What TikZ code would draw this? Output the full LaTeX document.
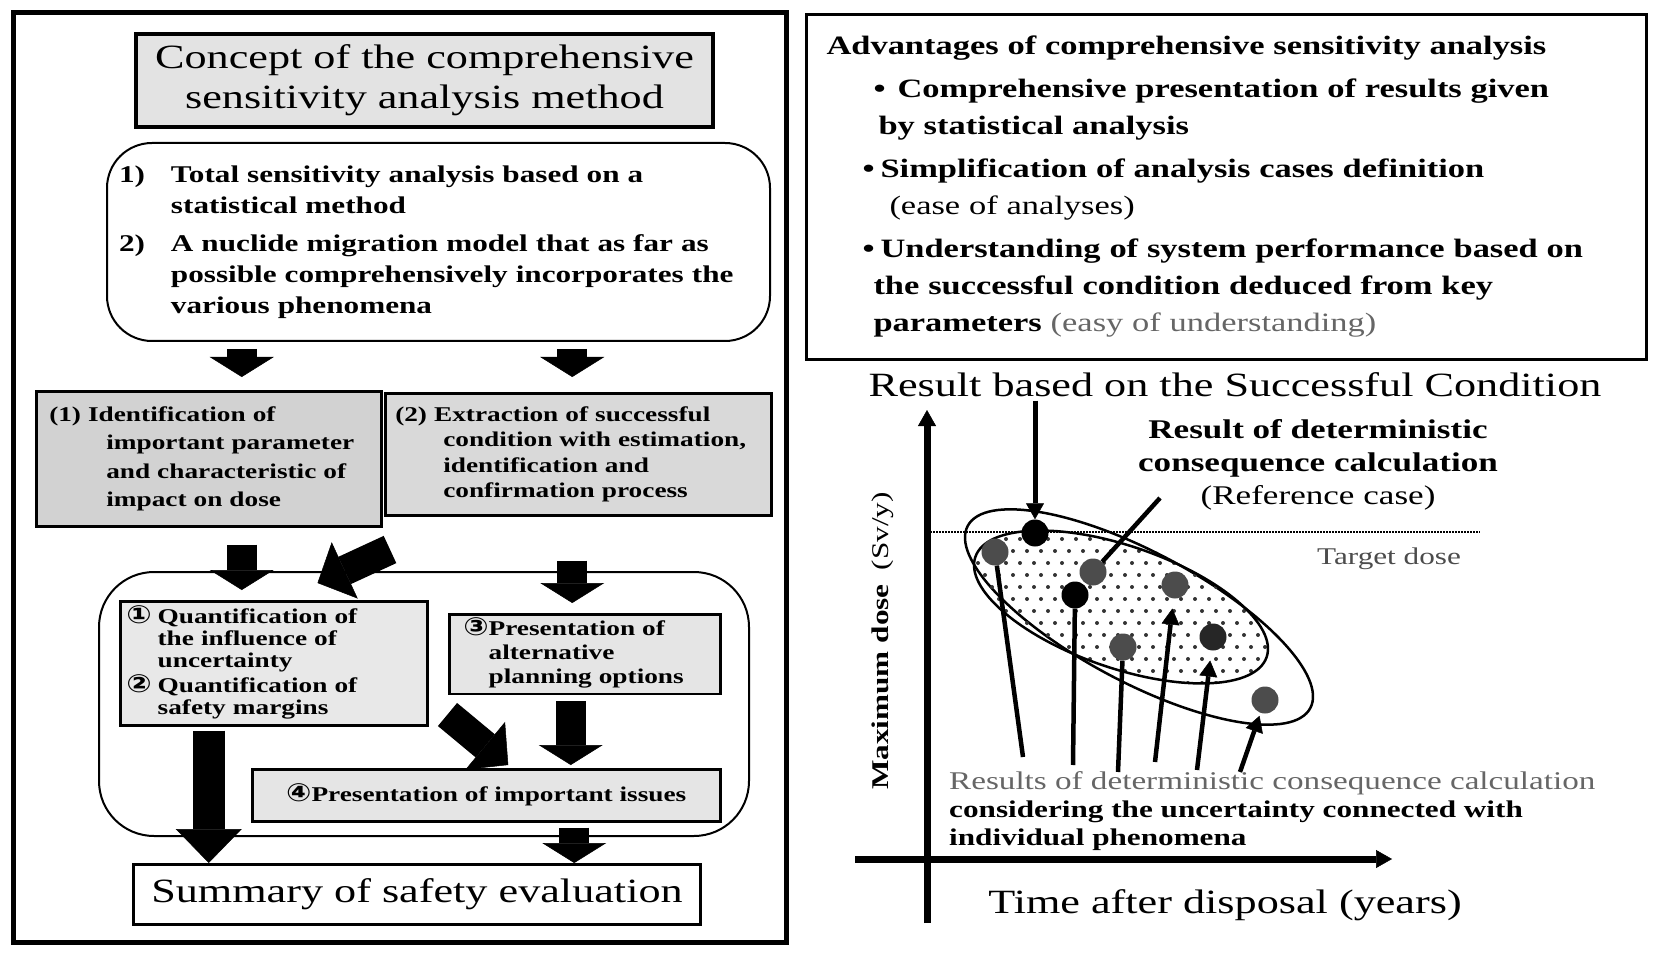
\documentclass[tikz,border=0pt]{standalone}
\usepackage{fontspec}
\setmainfont{Liberation Serif}[FakeStretch=1.3]
\newfontfamily\circfont{DejaVu Sans}[FakeStretch=1.2]
\newcommand{\cnum}[1]{{\circfont\fontsize{25}{22}\selectfont #1}}
\usetikzlibrary{arrows.meta}
\hyphenpenalty=10000

\begin{document}
\begin{tikzpicture}[x=1pt, y=-1pt,
    boxed/.style={draw, line width=2.5pt, anchor=north west},
    toned/.style={boxed, fill=gray!25, align=left, font=\bfseries\fontsize{21}{24}\selectfont},
    roundframe/.style={draw, line width=2pt, anchor=north west, rounded corners=45pt},
    blockarrow/.style={line width=30pt, -{Triangle[width=64pt, length=20pt, line width=0.5pt]}},
    slantarrow/.style={line width=30pt, -{Triangle[width=62pt, length=30pt, line width=0.5pt]}},
    pointer/.style={line width=5pt, -{Triangle[width=18pt, length=16pt, line width=0.5pt]}},
    stalk/.style={line width=4.5pt},
    blackdot/.style={circle, fill=black, inner sep=0pt, minimum size=27pt},
    greydot/.style={blackdot, fill=black!70}]
    \useasboundingbox (0,0) rectangle (1663,968);

    \draw[line width=5pt] (13,13) rectangle (786,942);
    \node[boxed, line width=4pt, fill=gray!22, minimum width=577pt, minimum height=93pt, align=center,
          font=\fontsize{34}{40}\selectfont] (concept) at (134,32)
          {Concept of the comprehensive\\sensitivity analysis method};
    \node[roundframe, inner xsep=12pt, text width=639pt, minimum height=198pt, align=left,
          font=\bfseries\fontsize{24}{31}\selectfont] (basis) at (106,142) {%
        \begin{tabular}{@{}l@{\hspace{26pt}}l@{}}
        1) & Total sensitivity analysis based on a\\
           & statistical method\\[7pt]
        2) & A nuclide migration model that as far as\\
           & possible comprehensively incorporates the\\
           & various phenomena
        \end{tabular}};
    \node[toned, fill=gray!35, inner xsep=13pt, text width=319pt, minimum height=135pt,
          font=\bfseries\fontsize{21}{28.5}\selectfont] (ident) at (35,390)
          {(1) Identification of\\\hspace*{57pt}important parameter\\\hspace*{57pt}and characteristic of\\\hspace*{57pt}impact on dose};
    \node[toned, fill=gray!30, inner xsep=10pt, text width=366pt, minimum height=122pt,
          font=\bfseries\fontsize{21}{25.5}\selectfont] (extract) at (384,392)
          {(2) Extraction of successful\\\hspace*{48pt}condition with estimation,\\\hspace*{48pt}identification and\\\hspace*{48pt}confirmation process};
    \node[roundframe, rounded corners=55pt, minimum width=650pt, minimum height=264pt] (impl) at (98,571) {};
    \node[toned, fill=gray!18, inner xsep=6pt, text width=295pt, minimum height=124pt,
          font=\bfseries\fontsize{21}{22}\selectfont] (quant) at (119,600) {%
        \begin{tabular}{@{}l@{\hspace{6pt}}l@{}}
        \cnum{①} & Quantification of\\
                 & the influence of\\
                 & uncertainty\\
        \cnum{②} & Quantification of\\
                 & safety margins
        \end{tabular}};
    \node[toned, fill=gray!20, inner xsep=14pt, text width=243pt, minimum height=79pt] (altern) at (448,613) {%
        \begin{tabular}{@{}l@{}l@{}}
        \cnum{③} & Presentation of\\
                 & alternative\\
                 & planning options
        \end{tabular}};
    \node[toned, fill=gray!20, minimum width=468pt, minimum height=52pt, align=center] (issues) at (251,768)
          {\cnum{④}Presentation of important issues};
    \node[boxed, line width=3pt, minimum width=567pt, minimum height=60pt,
          font=\fontsize{34}{40}\selectfont] (summary) at (132,863) {Summary of safety evaluation};

    \draw[blockarrow, shorten <=7pt, shorten >=13pt] ([xshift=33pt]ident.north |- basis.south) -- ([xshift=33pt]ident.north);
    \draw[blockarrow, shorten <=7pt, shorten >=15pt] ([xshift=-6pt]extract.north |- basis.south) -- ([xshift=-6pt]extract.north);
    \draw[blockarrow, shorten <=17pt, shorten >=10pt] ([xshift=33pt]ident.south) -- ([xshift=33pt]ident.south |- quant.north);
    \draw[slantarrow] ([shift={(6pt,-33pt)}]extract.south west) -- ([shift={(-111pt,17pt)}]quant.north east);
    \draw[blockarrow, shorten <=44pt, shorten >=10pt] ([xshift=-6pt]extract.south) -- ([xshift=-6pt]extract.south |- altern.north);
    \draw[blockarrow, shorten <=6pt, shorten >=3pt] ([xshift=-14pt]altern.south) -- ([xshift=-14pt]altern.south |- issues.north);
    \draw[slantarrow] ([shift={(19pt,12pt)}]quant.south east) -- ([shift={(22pt,3pt)}]issues.north);
    \draw[line width=32pt, -{Triangle[width=66pt, length=34pt, line width=0.5pt]}, shorten <=4pt]
          ([xshift=-65pt]quant.south) -- ([xshift=-65pt]quant.south |- summary.north);
    \draw[blockarrow, shorten <=5pt] ([xshift=88pt]issues.south) -- ([xshift=88pt]issues.south |- summary.north);

    \node[boxed, line width=3pt, inner xsep=20pt, text width=800pt, minimum height=345pt, align=left,
          font=\bfseries\fontsize{26.5}{37}\selectfont] (advant) at (805,13) {%
        Advantages of comprehensive sensitivity analysis\\[6pt]
        \hspace*{47pt}\textbullet\hspace*{12pt}Comprehensive presentation of results given\\
        \hspace*{52pt}by statistical analysis\\[6pt]
        \hspace*{36pt}\textbullet\hspace*{6pt}Simplification of analysis cases definition\\
        \hspace*{63pt}{\mdseries (ease of analyses)}\\[6pt]
        \hspace*{36pt}\textbullet\hspace*{6pt}Understanding of system performance based on\\
        \hspace*{47pt}the successful condition deduced from key\\
        \hspace*{47pt}parameters {\mdseries\color{black!60}(easy of understanding)}};

    \node[font=\fontsize{34}{40}\selectfont] (heading) at (1235,385) {Result based on the Successful Condition};
    \draw[line width=7pt, -{Triangle[width=18pt, length=16pt, line width=0.5pt]}] (927,923) -- (927,410);
    \draw[line width=7pt, -{Triangle[width=18pt, length=16pt, line width=0.5pt]}] (855,859) -- (1392,859);
    \node[rotate=90, font=\fontsize{24}{24}\selectfont] (ylabel) at (883,641) {\textbf{Maximum dose}\hspace{14pt}(Sv/y)};
    \node[font=\fontsize{34}{40}\selectfont] (xlabel) at (1225,905) {Time after disposal (years)};
    \draw[densely dotted, line width=2pt] (927,532) -- (1480,532);
    \node[font=\fontsize{24}{24}\selectfont, text=black!70] (target) at (1389,559) {Target dose};

    \draw[line width=2.5pt, rotate around={-28:(1139,617)}] (1139,617) ellipse [x radius=194pt, y radius=65pt];
    \begin{scope}
    \clip[rotate around={-19:(1121,607)}] (1121,607) ellipse [x radius=154pt, y radius=61pt];
    \foreach \row in {0,...,16}
      \foreach \col in {0,...,24}
        \fill[black!80] ({950+14*\col+7*mod(\row,2)}, {515+12*\row}) circle (2pt);
    \end{scope}
    \draw[line width=2.5pt, rotate around={-19:(1121,607)}] (1121,607) ellipse [x radius=154pt, y radius=61pt];

    \node[blackdot] (top) at (1035,533) {};
    \node[greydot] (r1) at (995,552) {};
    \node[greydot] (refcase) at (1093,572) {};
    \node[blackdot] (r2) at (1075,595) {};
    \node[greydot] (r4) at (1175,585) {};
    \node[greydot, fill=black!85] (r5) at (1213,637) {};
    \node[greydot] (r3) at (1123,647) {};
    \node[greydot] (r6) at (1265,700) {};

    \draw[pointer] (heading.south -| top) -- (top);
    \node[align=center, font=\fontsize{27}{33}\selectfont] (reflabel) at (1318,465)
          {\textbf{Result of deterministic}\\\textbf{consequence calculation}\\(Reference case)};
    \coordinate (reftail) at (1160,498);
    \draw[stalk] (reftail) -- (refcase);

    \node[anchor=west, align=left, inner sep=4pt, font=\bfseries\fontsize{24}{28}\selectfont] (multi) at (945,811)
          {{\mdseries\color{black!60}\fontsize{25.5}{28}\selectfont Results of deterministic consequence calculation}\\
           considering the uncertainty connected with\\
           individual phenomena};
    \coordinate (foot1) at (1023,757);
    \coordinate (foot2) at (1073,765);
    \coordinate (foot3) at (1118,772);
    \coordinate (foot4) at (1155,762);
    \coordinate (foot5) at (1197,770);
    \coordinate (foot6) at (1240,772);
    \draw[stalk] (foot1) -- (r1);
    \draw[stalk] (foot2) -- (r2);
    \draw[stalk] (foot3) -- (r3);
    \draw[pointer, line width=4.5pt, shorten >=10pt] (foot4) -- (r4);
    \draw[pointer, line width=4.5pt, shorten >=10pt] (foot5) -- (r5);
    \draw[pointer, line width=4.5pt, shorten >=3pt] (foot6) -- (r6);
\end{tikzpicture}
\end{document}
